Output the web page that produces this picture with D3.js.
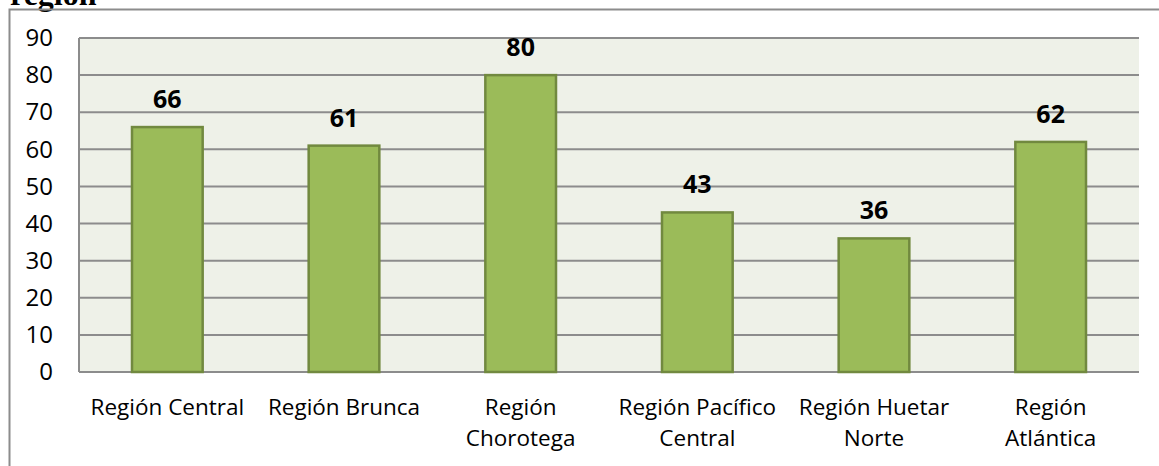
<!DOCTYPE html>
<html>
<head>
<meta charset="utf-8">
<script src="https://cdn.jsdelivr.net/npm/d3@7"></script>
<style>
  body { margin: 0; background: #fff; }
  svg { display: block; }
</style>
</head>
<body>
<svg id="chart"></svg>
<script>
// data
var regiones = ["Región Central", "Región Brunca", "Región Chorotega",
                "Región Pacífico Central", "Región Huetar Norte", "Región Atlántica"];
var etiquetas = [["Región Central"], ["Región Brunca"], ["Región", "Chorotega"],
                 ["Región Pacífico", "Central"], ["Región Huetar", "Norte"], ["Región", "Atlántica"]];
var valores = [66, 61, 80, 43, 36, 62];
var yTicks = [0, 10, 20, 30, 40, 50, 60, 70, 80, 90];

var W = 1159, H = 466;
var margin = {top: 38, right: 20, bottom: 94, left: 79},
    width = 1139 - margin.left,
    height = 372 - margin.top;

var svg = d3.select("#chart")
    .attr("width", W)
    .attr("height", H);

// title, cut at the top edge as in the original
svg.append("text")
    .attr("x", 10)
    .attr("y", 5)
    .style("font-family", "'Liberation Serif', 'Times New Roman', serif")
    .style("font-weight", "bold")
    .style("font-size", "32px")
    .style("fill", "#000")
    .text("región");

// outer frame
svg.append("rect")
    .attr("x", 9.5)
    .attr("y", 9.5)
    .attr("width", W)
    .attr("height", H)
    .attr("fill", "none")
    .attr("stroke", "#8c8c8c")
    .attr("stroke-width", 2);

var g = svg.append("g")
    .attr("transform", "translate(" + margin.left + "," + margin.top + ")");

var x = d3.scaleBand()
    .domain(regiones)
    .range([0, width])
    .paddingInner(0.6)
    .paddingOuter(0.3);

var y = d3.scaleLinear()
    .domain([0, 90])
    .range([height, 0]);

// plot background
g.append("rect")
    .attr("width", width)
    .attr("height", height)
    .attr("fill", "#eef1e8");

// gridlines
g.selectAll(".grid")
    .data(yTicks)
  .enter().append("line")
    .attr("x1", 0)
    .attr("x2", width)
    .attr("y1", function(d) { return y(d); })
    .attr("y2", function(d) { return y(d); })
    .attr("stroke", "#8c8c8c")
    .attr("stroke-width", 2);

// left axis line
g.append("line")
    .attr("x1", 0).attr("x2", 0)
    .attr("y1", 0).attr("y2", height)
    .attr("stroke", "#8c8c8c")
    .attr("stroke-width", 2);

// y axis labels
var yAxis = g.append("g")
    .call(d3.axisLeft(y).tickValues(yTicks).tickSize(0).tickPadding(26));
yAxis.select(".domain").remove();
yAxis.selectAll("text")
    .style("font-family", "'Open Sans', sans-serif")
    .style("font-size", "24px")
    .style("fill", "#000");

// bars
g.selectAll(".bar")
    .data(valores)
  .enter().append("rect")
    .attr("x", function(d, i) { return x(regiones[i]); })
    .attr("y", function(d) { return y(d); })
    .attr("width", x.bandwidth())
    .attr("height", function(d) { return height - y(d); })
    .attr("fill", "#9bbb59")
    .attr("stroke", "#71893f")
    .attr("stroke-width", 2.5);

// value labels
g.selectAll(".val")
    .data(valores)
  .enter().append("text")
    .attr("x", function(d, i) { return x(regiones[i]) + x.bandwidth() / 2; })
    .attr("y", function(d) { return y(d) - 19; })
    .attr("text-anchor", "middle")
    .style("font-family", "'Open Sans', sans-serif")
    .style("font-weight", "bold")
    .style("font-size", "25px")
    .style("fill", "#000")
    .text(function(d) { return d; });

// category labels
var cat = g.selectAll(".cat")
    .data(etiquetas)
  .enter().append("text")
    .attr("text-anchor", "middle")
    .attr("transform", function(d, i) {
      return "translate(" + (x(regiones[i]) + x.bandwidth() / 2) + "," + (height + 43) + ")";
    })
    .style("font-family", "'Open Sans', sans-serif")
    .style("font-size", "22.5px")
    .style("fill", "#000");

cat.selectAll("tspan")
    .data(function(d) { return d; })
  .enter().append("tspan")
    .attr("x", 0)
    .attr("y", function(d, i) { return i * 31; })
    .text(function(d) { return d; });
</script>
</body>
</html>
